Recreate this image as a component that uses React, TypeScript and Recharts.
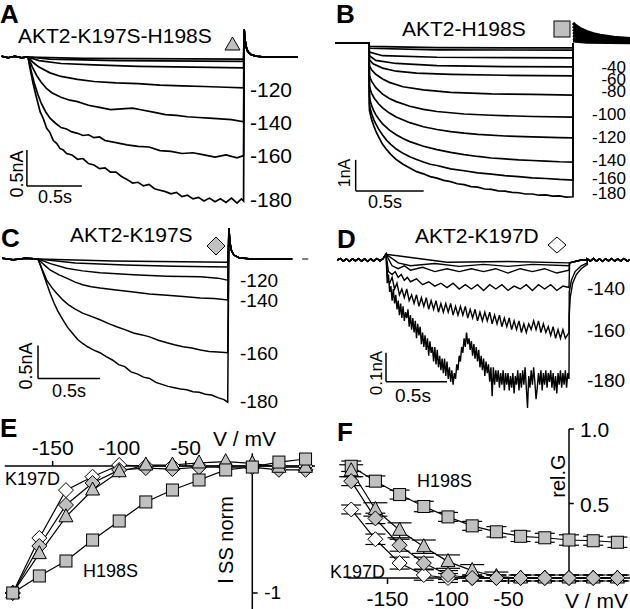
import React from "react";
import { LineChart, Line, XAxis, YAxis, ReferenceLine, ErrorBar } from "recharts";

type Pt = [number, number];

const FONT = '"Liberation Sans", Arial, sans-serif';
const GRAY = "#c0c0c0";

// ---------- A: AKT2-K197S-H198S (t in s, I in nA)
const aPre: Pt[] = [[-0.24, 0.01], [-0.18, -0.01], [-0.12, 0.01], [-0.06, -0.01], [0, 0]];
const aTail: Pt[] = [[1.965, 0.38], [1.972, 0.24], [1.985, 0.13], [2.0, 0.07], [2.03, 0.03], [2.08, 0.01], [2.15, 0], [2.45, 0]];
const a180: Pt[] = [[0.02, -0.17], [0.045, -0.36], [0.07, -0.52], [0.09, -0.64], [0.11, -0.76], [0.14, -0.86], [0.17, -0.99], [0.2, -1.05], [0.23, -1.16], [0.26, -1.2], [0.29, -1.27], [0.32, -1.29], [0.35, -1.34], [0.4, -1.36], [0.45, -1.42], [0.5, -1.41], [0.55, -1.48], [0.6, -1.5], [0.65, -1.55], [0.7, -1.54], [0.75, -1.6], [0.8, -1.6], [0.85, -1.66], [0.9, -1.7], [0.95, -1.75], [1.0, -1.74], [1.05, -1.79], [1.1, -1.77], [1.15, -1.83], [1.2, -1.85], [1.25, -1.87], [1.3, -1.9], [1.35, -1.88], [1.4, -1.94], [1.45, -1.92], [1.5, -1.97], [1.55, -1.95], [1.6, -2.0], [1.65, -1.96], [1.7, -2.01], [1.75, -1.97], [1.8, -2.02], [1.85, -1.96], [1.9, -2.03], [1.94, -1.97], [1.96, -2.0]];
const a160: Pt[] = [[0.03, -0.2], [0.06, -0.38], [0.09, -0.52], [0.12, -0.64], [0.16, -0.76], [0.2, -0.85], [0.25, -0.92], [0.3, -0.98], [0.35, -1.0], [0.4, -1.04], [0.45, -1.06], [0.5, -1.09], [0.55, -1.08], [0.6, -1.12], [0.65, -1.11], [0.7, -1.16], [0.8, -1.19], [0.9, -1.22], [1.0, -1.24], [1.1, -1.25], [1.2, -1.3], [1.3, -1.31], [1.4, -1.34], [1.5, -1.33], [1.6, -1.36], [1.7, -1.39], [1.8, -1.36], [1.9, -1.4], [1.96, -1.37]];
const a140: Pt[] = [[0.04, -0.14], [0.08, -0.26], [0.12, -0.35], [0.17, -0.44], [0.22, -0.5], [0.3, -0.56], [0.38, -0.6], [0.45, -0.62], [0.55, -0.67], [0.65, -0.7], [0.75, -0.73], [0.85, -0.72], [0.95, -0.71], [1.05, -0.74], [1.15, -0.77], [1.25, -0.8], [1.35, -0.81], [1.45, -0.83], [1.55, -0.84], [1.65, -0.85], [1.75, -0.86], [1.85, -0.87], [1.96, -0.9]];
const a120: Pt[] = [[0.05, -0.08], [0.1, -0.14], [0.2, -0.22], [0.3, -0.27], [0.45, -0.31], [0.6, -0.34], [0.8, -0.36], [1.0, -0.37], [1.2, -0.39], [1.4, -0.4], [1.6, -0.41], [1.8, -0.42], [1.96, -0.43]];
const a100: Pt[] = [[0.1, -0.05], [0.3, -0.09], [0.6, -0.11], [1.0, -0.13], [1.5, -0.14], [1.96, -0.15]];
const a80: Pt[] = [[0.2, -0.03], [0.8, -0.05], [1.96, -0.06]];
const a60: Pt[] = [[0.5, -0.02], [1.96, -0.03]];
const aTraces = [a60, a80, a100, a120, a140, a160, a180];

// ---------- B: AKT2-H198S
const bPre: Pt[] = [[-0.25, 0.29], [0, 0.29]];
const b180: Pt[] = [[0.003, -1.87], [0.01, -2.02], [0.02, -2.19], [0.035, -2.38], [0.05, -2.55], [0.07, -2.73], [0.1, -2.98], [0.13, -3.15], [0.16, -3.3], [0.2, -3.47], [0.25, -3.62], [0.3, -3.74], [0.35, -3.86], [0.4, -3.93], [0.45, -4.02], [0.5, -4.07], [0.55, -4.14], [0.6, -4.18], [0.65, -4.25], [0.7, -4.28], [0.75, -4.34], [0.8, -4.36], [0.85, -4.42], [0.9, -4.43], [0.95, -4.48], [1.0, -4.49], [1.05, -4.53], [1.1, -4.54], [1.15, -4.58], [1.2, -4.58], [1.25, -4.62], [1.3, -4.61], [1.35, -4.65], [1.4, -4.64], [1.45, -4.68], [1.5, -4.67]];
const b160: Pt[] = [[0.003, -1.7], [0.01, -1.85], [0.02, -2.0], [0.035, -2.18], [0.05, -2.32], [0.07, -2.48], [0.1, -2.68], [0.13, -2.85], [0.16, -2.98], [0.2, -3.13], [0.25, -3.27], [0.3, -3.38], [0.35, -3.47], [0.4, -3.55], [0.45, -3.62], [0.5, -3.66], [0.6, -3.77], [0.7, -3.83], [0.8, -3.9], [0.9, -3.94], [1.0, -3.99], [1.1, -4.02], [1.2, -4.06], [1.3, -4.08], [1.4, -4.11], [1.5, -4.13]];
const b140: Pt[] = [[0.003, -1.45], [0.01, -1.6], [0.02, -1.74], [0.035, -1.9], [0.05, -2.02], [0.07, -2.15], [0.1, -2.32], [0.15, -2.52], [0.2, -2.67], [0.25, -2.79], [0.3, -2.89], [0.4, -3.04], [0.5, -3.15], [0.6, -3.24], [0.7, -3.31], [0.8, -3.37], [0.9, -3.42], [1.0, -3.45], [1.1, -3.48], [1.2, -3.5], [1.3, -3.52], [1.4, -3.54], [1.5, -3.55]];
const b120: Pt[] = [[0.003, -1.1], [0.01, -1.22], [0.02, -1.34], [0.04, -1.5], [0.07, -1.67], [0.1, -1.8], [0.15, -1.97], [0.2, -2.1], [0.3, -2.28], [0.4, -2.41], [0.5, -2.5], [0.6, -2.57], [0.7, -2.62], [0.8, -2.66], [1.0, -2.71], [1.2, -2.74], [1.4, -2.76], [1.5, -2.77]];
const b100: Pt[] = [[0.003, -0.75], [0.01, -0.85], [0.02, -0.95], [0.05, -1.15], [0.1, -1.36], [0.15, -1.5], [0.2, -1.6], [0.3, -1.75], [0.4, -1.85], [0.5, -1.92], [0.7, -2.0], [0.9, -2.04], [1.2, -2.08], [1.5, -2.1]];
const b80: Pt[] = [[0.003, -0.45], [0.02, -0.58], [0.05, -0.72], [0.1, -0.87], [0.15, -0.98], [0.25, -1.12], [0.4, -1.22], [0.6, -1.3], [0.9, -1.35], [1.2, -1.37], [1.5, -1.39]];
const b60: Pt[] = [[0.003, -0.25], [0.03, -0.38], [0.1, -0.52], [0.2, -0.62], [0.35, -0.68], [0.6, -0.72], [1.0, -0.75], [1.5, -0.77]];
const b40: Pt[] = [[0.003, -0.12], [0.05, -0.27], [0.2, -0.37], [0.5, -0.44], [1.0, -0.47], [1.5, -0.48]];
const b20: Pt[] = [[0.003, 0.0], [0.1, -0.12], [0.5, -0.17], [1.5, -0.19]];
const b0: Pt[] = [[0.003, 0.12], [0.5, 0.07], [1.5, 0.06]];
const bP20: Pt[] = [[0.003, 0.18], [0.5, 0.14], [1.5, 0.13]];
// tail currents after the step
const bTail180: Pt[] = [[1.5, 0.94], [1.52, 0.85], [1.55, 0.76], [1.6, 0.66], [1.65, 0.59], [1.7, 0.54], [1.8, 0.47], [1.92, 0.43]];
const bTail160: Pt[] = [[1.5, 0.84], [1.52, 0.77], [1.55, 0.69], [1.6, 0.61], [1.65, 0.55], [1.7, 0.5], [1.8, 0.45], [1.92, 0.41]];
const bTail140: Pt[] = [[1.5, 0.74], [1.52, 0.68], [1.55, 0.62], [1.6, 0.55], [1.65, 0.5], [1.7, 0.46], [1.8, 0.42], [1.92, 0.39]];
const bTail120: Pt[] = [[1.5, 0.64], [1.52, 0.6], [1.55, 0.55], [1.6, 0.49], [1.65, 0.45], [1.7, 0.42], [1.8, 0.39], [1.92, 0.37]];
const bTail100: Pt[] = [[1.5, 0.54], [1.52, 0.51], [1.55, 0.47], [1.6, 0.43], [1.65, 0.4], [1.7, 0.38], [1.8, 0.36], [1.92, 0.34]];
const bTail80: Pt[] = [[1.5, 0.44], [1.52, 0.42], [1.55, 0.4], [1.6, 0.37], [1.65, 0.35], [1.7, 0.34], [1.8, 0.32], [1.92, 0.31]];
const bTailLow: Pt[] = [[1.5, 0.36], [1.6, 0.32], [1.92, 0.3]];
const bSteps = [bP20, b0, b20, b40, b60, b80, b100, b120, b140, b160, b180];
const bTails = [bTailLow, bTail80, bTail100, bTail120, bTail140, bTail160, bTail180];

// ---------- C: AKT2-K197S
const cPre: Pt[] = [[-0.29, 0.01], [-0.2, -0.01], [-0.1, 0.01], [0, 0]];
const cTail: Pt[] = [[1.54, 0.47], [1.547, 0.26], [1.56, 0.13], [1.58, 0.06], [1.62, 0.02], [1.7, 0.005], [2.05, 0]];
const c180: Pt[] = [[0.02, -0.1], [0.04, -0.21], [0.07, -0.37], [0.1, -0.53], [0.13, -0.67], [0.16, -0.79], [0.2, -0.92], [0.24, -1.04], [0.28, -1.13], [0.32, -1.22], [0.36, -1.28], [0.4, -1.33], [0.45, -1.38], [0.5, -1.42], [0.55, -1.48], [0.6, -1.53], [0.65, -1.6], [0.7, -1.63], [0.75, -1.71], [0.8, -1.74], [0.85, -1.79], [0.9, -1.81], [0.95, -1.87], [1.0, -1.9], [1.05, -1.93], [1.1, -1.95], [1.15, -1.97], [1.2, -1.98], [1.25, -2.01], [1.3, -2.02], [1.35, -2.05], [1.4, -2.06], [1.45, -2.1], [1.5, -2.13], [1.53, -2.17]];
const c160: Pt[] = [[0.03, -0.14], [0.07, -0.32], [0.11, -0.43], [0.15, -0.52], [0.2, -0.62], [0.25, -0.7], [0.3, -0.76], [0.36, -0.82], [0.43, -0.87], [0.5, -0.92], [0.57, -0.98], [0.64, -1.03], [0.7, -1.07], [0.77, -1.12], [0.84, -1.15], [0.9, -1.18], [0.97, -1.23], [1.04, -1.27], [1.1, -1.3], [1.17, -1.33], [1.24, -1.35], [1.31, -1.38], [1.38, -1.4], [1.45, -1.41], [1.53, -1.42]];
const c140: Pt[] = [[0.05, -0.09], [0.1, -0.17], [0.17, -0.24], [0.23, -0.29], [0.3, -0.35], [0.36, -0.39], [0.43, -0.42], [0.5, -0.44], [0.63, -0.47], [0.77, -0.5], [0.9, -0.53], [1.04, -0.55], [1.17, -0.57], [1.31, -0.59], [1.42, -0.6], [1.53, -0.62]];
const c120: Pt[] = [[0.1, -0.07], [0.23, -0.14], [0.36, -0.18], [0.5, -0.21], [0.77, -0.24], [1.04, -0.26], [1.31, -0.27], [1.45, -0.29], [1.53, -0.32]];
const c100: Pt[] = [[0.3, -0.06], [0.7, -0.09], [1.1, -0.11], [1.53, -0.12]];
const c80: Pt[] = [[0.6, -0.03], [1.53, -0.05]];
const cTraces = [c80, c100, c120, c140, c160, c180];

// ---------- D: AKT2-K197D
const dPre: Pt[] = [[-0.4, 0], [-0.375, 0.005], [-0.35, -0.004], [-0.325, 0.004], [-0.3, -0.005], [-0.275, 0.004], [-0.25, -0.003], [-0.225, 0.005], [-0.2, -0.004], [-0.175, 0.004], [-0.15, -0.005], [-0.125, 0.004], [-0.1, -0.004], [-0.075, 0.005], [-0.05, -0.003], [-0.025, 0.004], [0, 0.02]];
const dPost: Pt[] = [[1.65, 0.004], [1.675, -0.004], [1.7, 0.005], [1.725, -0.004], [1.75, 0.004], [1.775, -0.005], [1.8, 0.004], [1.825, -0.003], [1.85, 0.005], [1.875, -0.004], [1.9, 0.004], [1.925, -0.004], [1.95, 0.005], [1.975, -0.003], [2.0, 0]];
// -180 mV trace, sampled every 10 ms from step onset
const dStep = 0.01;
const d180Values = [
  0.02, -0.08, -0.05, -0.11, -0.09, -0.14, -0.1, -0.15, -0.12, -0.17, -0.14, -0.19, -0.15, -0.2, -0.16, -0.21, -0.18, -0.2, -0.17, -0.23,
  -0.19, -0.24, -0.2, -0.25, -0.21, -0.27, -0.22, -0.26, -0.23, -0.29, -0.25, -0.3, -0.26, -0.31, -0.27, -0.33, -0.28, -0.32, -0.3, -0.35,
  -0.3, -0.36, -0.31, -0.37, -0.33, -0.38, -0.34, -0.39, -0.34, -0.4, -0.35, -0.41, -0.37, -0.42, -0.38, -0.43, -0.39, -0.41, -0.36, -0.38,
  -0.33, -0.35, -0.3, -0.32, -0.27, -0.3, -0.25, -0.29, -0.27, -0.31, -0.28, -0.33, -0.29, -0.34, -0.3, -0.35, -0.31, -0.37, -0.33, -0.38,
  -0.34, -0.4, -0.35, -0.39, -0.36, -0.42, -0.37, -0.47, -0.37, -0.43, -0.38, -0.42, -0.38, -0.44, -0.39, -0.43, -0.38, -0.45, -0.39, -0.43,
  -0.39, -0.45, -0.4, -0.44, -0.39, -0.46, -0.4, -0.43, -0.38, -0.45, -0.39, -0.44, -0.38, -0.43, -0.37, -0.44, -0.51, -0.4, -0.44, -0.38,
  -0.43, -0.37, -0.42, -0.48, -0.44, -0.39, -0.43, -0.38, -0.45, -0.39, -0.43, -0.38, -0.44, -0.39, -0.42, -0.38, -0.44, -0.39, -0.45, -0.4,
  -0.46, -0.39, -0.43, -0.38, -0.44, -0.39, -0.43, -0.38, -0.44, -0.39, -0.41,
];
const d160: Pt[] = [[0.01, -0.04], [0.015, -0.07], [0.03, -0.08], [0.05, -0.06], [0.07, -0.1], [0.09, -0.08], [0.11, -0.12], [0.13, -0.1], [0.15, -0.13], [0.17, -0.1], [0.19, -0.14], [0.21, -0.12], [0.23, -0.15], [0.25, -0.12], [0.27, -0.16], [0.29, -0.13], [0.31, -0.16], [0.33, -0.13], [0.35, -0.17], [0.37, -0.14], [0.39, -0.17], [0.41, -0.14], [0.43, -0.18], [0.45, -0.15], [0.47, -0.18], [0.49, -0.15], [0.51, -0.18], [0.53, -0.15], [0.55, -0.19], [0.57, -0.16], [0.59, -0.19], [0.61, -0.16], [0.63, -0.19], [0.65, -0.16], [0.67, -0.2], [0.69, -0.17], [0.71, -0.2], [0.73, -0.17], [0.75, -0.21], [0.77, -0.18], [0.79, -0.21], [0.81, -0.18], [0.83, -0.21], [0.85, -0.18], [0.87, -0.22], [0.89, -0.19], [0.91, -0.22], [0.93, -0.19], [0.95, -0.23], [0.97, -0.2], [0.99, -0.23], [1.01, -0.2], [1.03, -0.24], [1.05, -0.21], [1.07, -0.24], [1.09, -0.21], [1.11, -0.25], [1.13, -0.22], [1.15, -0.25], [1.17, -0.22], [1.19, -0.24], [1.21, -0.21], [1.23, -0.24], [1.25, -0.21], [1.27, -0.25], [1.29, -0.22], [1.31, -0.25], [1.33, -0.23], [1.35, -0.26], [1.37, -0.23], [1.39, -0.27], [1.41, -0.24], [1.43, -0.27], [1.45, -0.24], [1.47, -0.27], [1.5, -0.25]];
const d140: Pt[] = [[0.02, -0.04], [0.05, -0.05], [0.075, -0.04], [0.1, -0.06], [0.125, -0.05], [0.15, -0.07], [0.175, -0.06], [0.2, -0.075], [0.25, -0.065], [0.3, -0.085], [0.35, -0.075], [0.4, -0.09], [0.45, -0.08], [0.5, -0.095], [0.55, -0.08], [0.6, -0.1], [0.65, -0.085], [0.7, -0.1], [0.75, -0.085], [0.8, -0.105], [0.85, -0.085], [0.9, -0.1], [0.95, -0.085], [1.0, -0.105], [1.05, -0.09], [1.1, -0.1], [1.15, -0.085], [1.2, -0.105], [1.25, -0.085], [1.3, -0.1], [1.35, -0.085], [1.4, -0.105], [1.45, -0.09], [1.5, -0.095]];
const d120: Pt[] = [[0.05, -0.02], [0.1, -0.03], [0.15, -0.02], [0.2, -0.035], [0.3, -0.025], [0.4, -0.04], [0.5, -0.03], [0.6, -0.04], [0.7, -0.03], [0.8, -0.04], [0.9, -0.03], [1.0, -0.045], [1.1, -0.03], [1.2, -0.04], [1.3, -0.03], [1.4, -0.045], [1.5, -0.035]];
const d100: Pt[] = [[0.1, -0.01], [0.2, -0.02], [0.4, -0.012], [0.6, -0.022], [0.8, -0.015], [1.0, -0.022], [1.2, -0.015], [1.5, -0.02]];
const d80: Pt[] = [[0.5, -0.008], [1.0, -0.005], [1.5, -0.01]];
const dTail180: Pt[] = [[1.502, -0.19], [1.51, -0.13], [1.53, -0.08], [1.56, -0.05], [1.6, -0.03], [1.65, -0.015]];
const dTail160: Pt[] = [[1.502, -0.11], [1.52, -0.07], [1.55, -0.04], [1.6, -0.02], [1.65, -0.01]];
const dTailLow: Pt[] = [[1.505, -0.01], [1.6, 0], [1.65, 0]];

// ---------- E: steady-state current vs voltage (normalized)
const voltages = [-180, -160, -140, -120, -100, -80, -60, -40, -20, 0, 20, 40];
const eH198S = [-1.0, -0.866, -0.748, -0.583, -0.433, -0.283, -0.189, -0.11, -0.031, -0.008, 0.031, 0.055];
const eK197SH198S = [-1.0, -0.69, -0.4, -0.189, -0.045, 0.008, 0.008, 0.024, 0.034, 0.02, -0.01, -0.01];
const eK197S = [-1.0, -0.63, -0.307, -0.134, -0.031, -0.016, -0.024, -0.01, -0.01, -0.01, -0.03, -0.03];
const eK197D = [-1.0, -0.567, -0.19, -0.084, 0.008, 0, 0, 0, 0, 0, 0, 0];

// ---------- F: relative conductance
const fH198S = [0.75, 0.65, 0.56, 0.48, 0.41, 0.35, 0.31, 0.28, 0.27, 0.255, 0.25, 0.24];
const fK197SH198S = [0.72, 0.46, 0.32, 0.21, 0.11, 0.05, 0.01, 0, 0, 0, 0, 0];
const fK197S = [0.65, 0.4, 0.22, 0.1, 0.02, 0, 0, 0, 0, 0, 0, 0];
const fK197D = [0.46, 0.26, 0.1, 0.02, 0, 0, 0, 0, 0, 0, 0, 0];
const fH198SErr = [0.035, 0.035, 0.03, 0.035, 0.03, 0.03, 0.035, 0.035, 0.03, 0.035, 0.03, 0.035];
const fK197SH198SErr = [0.04, 0.045, 0.05, 0.045, 0.045, 0.04, 0.03, 0.02, 0.02, 0.02, 0.02, 0.02];
const fK197SErr = [0.03, 0.035, 0.04, 0.04, 0.03, 0.02, 0.02, 0.02, 0.02, 0.02, 0.02, 0.02];
const fK197DErr = [0.03, 0.035, 0.04, 0.035, 0.03, 0.02, 0.02, 0.02, 0.02, 0.02, 0.02, 0.02];

const eXTicks = [-150, -100, -50];
const eYTicks = [-1];
const fXTicks = [-150, -100, -50];
const fYTicks = [0.5, 1.0];

// scale bars: corner (t, i) and lengths
const scaleA = { t: -0.01, i: -1.79, dt: 0.5, di: 0.5 };
const scaleB = { t: -0.098, i: -4.48, dt: 0.5, di: 1 };
const scaleC = { t: 0, i: -1.81, dt: 0.5, di: 0.5 };
const scaleD = { t: 0, i: -0.42, dt: 0.5, di: 0.1 };

type Trace = { pts: Pt[]; w: number };
type Scale = { t: number; i: number; dt: number; di: number };

const toRows = (pts: Pt[]) => pts.map(([t, i]) => ({ t, i }));

const eRows = voltages.map((v, k) => ({ v, sq: eH198S[k], tri: eK197SH198S[k], dia: eK197S[k], odia: eK197D[k] }));
const fRows = voltages.map((v, k) => ({
  v,
  sq: fH198S[k], sqE: fH198SErr[k],
  tri: fK197SH198S[k], triE: fK197SH198SErr[k],
  dia: fK197S[k], diaE: fK197SErr[k],
  odia: fK197D[k], odiaE: fK197DErr[k],
}));

function Marker({ cx, cy, kind }: { cx?: number; cy?: number; kind: string }) {
  if (cx == null || cy == null) return null;
  if (kind === "sq") return <rect x={cx - 6} y={cy - 6} width={12} height={12} fill={GRAY} stroke="#000" strokeWidth={1} />;
  if (kind === "tri")
    return <polygon points={`${cx},${cy - 8} ${cx + 7},${cy + 5} ${cx - 7},${cy + 5}`} fill={GRAY} stroke="#000" strokeWidth={1} />;
  const fill = kind === "odia" ? "#fff" : GRAY;
  return <polygon points={`${cx},${cy - 7.5} ${cx + 7.5},${cy} ${cx},${cy + 7.5} ${cx - 7.5},${cy}`} fill={fill} stroke="#000" strokeWidth={1} />;
}

const dotOf = (kind: string) => (p: any) => <Marker key={`${kind}-${p.index}`} cx={p.cx} cy={p.cy} kind={kind} />;

function TickText(props: any) {
  const { viewBox, text, dx = 0, dy = 0, anchor = "middle", size = 21 } = props;
  if (!viewBox) return null;
  return (
    <text x={viewBox.x + dx} y={viewBox.y + dy} textAnchor={anchor} fontSize={size} fontFamily={FONT} fill="#000">
      {text}
    </text>
  );
}

const noMargin = { top: 0, right: 0, bottom: 0, left: 0 };

function tracePanel(
  key: string,
  left: number,
  top: number,
  width: number,
  height: number,
  xDomain: [number, number],
  yDomain: [number, number],
  traces: Trace[],
  s: Scale,
  extra: React.ReactNode[] = []
) {
  return (
    <div key={key} style={{ position: "absolute", left, top }}>
      <LineChart width={width} height={height} margin={noMargin}>
        <XAxis type="number" dataKey="t" domain={xDomain} hide allowDataOverflow />
        <YAxis type="number" domain={yDomain} hide allowDataOverflow />
        {extra}
        {traces.map((tr, k) => (
          <Line key={k} data={toRows(tr.pts)} dataKey="i" type="linear" stroke="#000" strokeWidth={tr.w} dot={false} activeDot={false} isAnimationActive={false} />
        ))}
        <ReferenceLine segment={[{ x: s.t, y: s.i }, { x: s.t, y: s.i + s.di }]} stroke="#000" strokeWidth={1.5} />
        <ReferenceLine segment={[{ x: s.t, y: s.i }, { x: s.t + s.dt, y: s.i }]} stroke="#000" strokeWidth={1.5} />
      </LineChart>
    </div>
  );
}

function Txt({ x, y, s = 21, b, a = "start", r, children }: any) {
  const common = { fontSize: s, fontFamily: FONT, fontWeight: b ? 700 : 400, textAnchor: a, fill: "#000" };
  if (r) return <text transform={`translate(${x},${y}) rotate(-90)`} {...common}>{children}</text>;
  return <text x={x} y={y} {...common}>{children}</text>;
}

export default function App() {
  const aAll: Trace[] = aTraces.map((tr) => ({ pts: [...aPre, ...tr, ...aTail], w: 1.7 }));
  const bAll: Trace[] = [
    ...bSteps.map((tr) => ({ pts: [...bPre, ...tr, [1.5, 0.29] as Pt], w: 1.7 })),
    ...bTails.map((tl) => ({ pts: tl, w: 3.2 })),
  ];
  const cAll: Trace[] = cTraces.map((tr) => ({ pts: [...cPre, ...tr, ...cTail], w: 1.5 }));
  const d180: Pt[] = d180Values.map((v, k) => [k * dStep, v] as Pt);
  const dAll: Trace[] = [
    [d80, dTailLow], [d100, dTailLow], [d120, dTailLow], [d140, dTailLow], [d160, dTail160], [d180, dTail180],
  ].map(([tr, tl]) => ({ pts: [...dPre, ...tr, ...tl, ...dPost], w: 1.4 }));

  return (
    <div style={{ position: "absolute", left: 0, top: 0, width: 630, height: 609, background: "#fff", overflow: "hidden" }}>
      {tracePanel("A", 0, 0, 315, 220, [-0.2545, 2.6091], [-2.2639, 0.7917], aAll, scaleA)}
      {tracePanel("B", 315, 0, 315, 220, [-0.3971, 1.9191], [-5.4194, 1.6774], bAll, scaleB, [
        <ReferenceLine key="zero" segment={[{ x: -0.25, y: 0 }, { x: 1.92, y: 0 }]} stroke="#000" strokeWidth={2} strokeDasharray="9 5" />,
      ])}
      {tracePanel("C", 0, 220, 315, 190, [-0.3065, 2.2339], [-2.2879, 0.5909], cAll, scaleC, [
        <ReferenceLine key="dash" segment={[{ x: 2.13, y: 0 }, { x: 2.18, y: 0 }]} stroke="#000" strokeWidth={1} />,
      ])}
      {tracePanel("D", 315, 220, 315, 190, [-0.582, 2.0], [-0.5172, 0.1379], dAll, scaleD)}

      {/* E */}
      <div style={{ position: "absolute", left: 0, top: 410 }}>
        <LineChart width={315} height={199} data={eRows} margin={noMargin}>
          <XAxis type="number" dataKey="v" domain={[-189.56, 47.11]} hide allowDataOverflow />
          <YAxis type="number" domain={[-1.126, 0.441]} hide allowDataOverflow />
          <ReferenceLine segment={[{ x: -186, y: 0 }, { x: 47.1, y: 0 }]} stroke="#000" strokeWidth={1.5} />
          <ReferenceLine segment={[{ x: 0, y: 0.1 }, { x: 0, y: -1.126 }]} stroke="#000" strokeWidth={1.5} />
          {eXTicks.map((v) => (
            <ReferenceLine key={`ex${v}`} segment={[{ x: v, y: 0 }, { x: v, y: 0.04 }]} stroke="#000" strokeWidth={1.5} label={<TickText text={String(v)} dy={-6} />} />
          ))}
          {eYTicks.map((v) => (
            <ReferenceLine key={`ey${v}`} segment={[{ x: 0, y: v }, { x: 4, y: v }]} stroke="#000" strokeWidth={1.5} label={<TickText text={String(v)} dx={12} dy={6} anchor="start" size={19} />} />
          ))}
          <Line dataKey="odia" stroke="#000" strokeWidth={1.2} dot={dotOf("odia")} activeDot={false} isAnimationActive={false} />
          <Line dataKey="dia" stroke="#000" strokeWidth={1.2} dot={dotOf("dia")} activeDot={false} isAnimationActive={false} />
          <Line dataKey="tri" stroke="#000" strokeWidth={1.2} dot={dotOf("tri")} activeDot={false} isAnimationActive={false} />
          <Line dataKey="sq" stroke="#000" strokeWidth={1.2} dot={dotOf("sq")} activeDot={false} isAnimationActive={false} />
        </LineChart>
      </div>

      {/* F */}
      <div style={{ position: "absolute", left: 315, top: 410 }}>
        <LineChart width={315} height={199} data={fRows} margin={noMargin}>
          <XAxis type="number" dataKey="v" domain={[-209.92, 50.41]} hide allowDataOverflow />
          <YAxis type="number" domain={[-0.208, 1.1275]} hide allowDataOverflow />
          <ReferenceLine segment={[{ x: -183, y: 0 }, { x: 50.4, y: 0 }]} stroke="#000" strokeWidth={1.5} />
          <ReferenceLine segment={[{ x: 0, y: 0 }, { x: 0, y: 1.0 }]} stroke="#000" strokeWidth={1.5} />
          {fXTicks.map((v) => (
            <ReferenceLine key={`fx${v}`} segment={[{ x: v, y: 0 }, { x: v, y: -0.04 }]} stroke="#000" strokeWidth={1.5} label={<TickText text={String(v)} dy={28} />} />
          ))}
          {fYTicks.map((v) => (
            <ReferenceLine key={`fy${v}`} segment={[{ x: 0, y: v }, { x: 4, y: v }]} stroke="#000" strokeWidth={1.5} label={<TickText text={v.toFixed(1)} dx={11} dy={8} anchor="start" />} />
          ))}
          <Line dataKey="sq" stroke="#000" strokeWidth={1.2} dot={dotOf("sq")} activeDot={false} isAnimationActive={false}>
            <ErrorBar dataKey="sqE" width={10} stroke="#000" strokeWidth={1.2} direction="y" />
          </Line>
          <Line dataKey="odia" stroke="#000" strokeWidth={1.2} dot={dotOf("odia")} activeDot={false} isAnimationActive={false}>
            <ErrorBar dataKey="odiaE" width={10} stroke="#000" strokeWidth={1.2} direction="y" />
          </Line>
          <Line dataKey="tri" stroke="#000" strokeWidth={1.2} dot={dotOf("tri")} activeDot={false} isAnimationActive={false}>
            <ErrorBar dataKey="triE" width={12} stroke="#000" strokeWidth={1.2} direction="y" />
          </Line>
          <Line dataKey="dia" stroke="#000" strokeWidth={1.2} dot={dotOf("dia")} activeDot={false} isAnimationActive={false}>
            <ErrorBar dataKey="diaE" width={10} stroke="#000" strokeWidth={1.2} direction="y" />
          </Line>
        </LineChart>
      </div>

      {/* annotations */}
      <svg width={630} height={609} style={{ position: "absolute", left: 0, top: 0, pointerEvents: "none" }}>
        <Txt x={0} y={23} s={26} b>A</Txt>
        <Txt x={336} y={23} s={26} b>B</Txt>
        <Txt x={1} y={247} s={26} b>C</Txt>
        <Txt x={337} y={248} s={26} b>D</Txt>
        <Txt x={0} y={437} s={26} b>E</Txt>
        <Txt x={337} y={441} s={26} b>F</Txt>

        <Txt x={18} y={43}>AKT2-K197S-H198S</Txt>
        <Txt x={402} y={36}>AKT2-H198S</Txt>
        <Txt x={70} y={242}>AKT2-K197S</Txt>
        <Txt x={415} y={243}>AKT2-K197D</Txt>

        <polygon points="225,50 240,50 232.5,37" fill={GRAY} stroke="#000" strokeWidth={1} />
        <rect x={554} y={21} width={16} height={16} fill={GRAY} stroke="#000" strokeWidth={1} />
        <polygon points="216,237 225,246 216,255 207,246" fill={GRAY} stroke="#000" strokeWidth={1} />
        <polygon points="557,237 566,245 557,253 548,245" fill="#fff" stroke="#000" strokeWidth={1} />

        <Txt x={250} y={97}>-120</Txt>
        <Txt x={250} y={130}>-140</Txt>
        <Txt x={250} y={163}>-160</Txt>
        <Txt x={250} y={207}>-180</Txt>

        <Txt x={626} y={73} s={17} a="end">-40</Txt>
        <Txt x={626} y={85} s={17} a="end">-60</Txt>
        <Txt x={626} y={97} s={17} a="end">-80</Txt>
        <Txt x={626} y={120} s={17} a="end">-100</Txt>
        <Txt x={626} y={143} s={17} a="end">-120</Txt>
        <Txt x={626} y={166} s={17} a="end">-140</Txt>
        <Txt x={626} y={184} s={17} a="end">-160</Txt>
        <Txt x={626} y={199} s={17} a="end">-180</Txt>

        <Txt x={240} y={287} s={19}>-120</Txt>
        <Txt x={240} y={307} s={19}>-140</Txt>
        <Txt x={240} y={360} s={19}>-160</Txt>
        <Txt x={240} y={408} s={19}>-180</Txt>

        <Txt x={587} y={295} s={19}>-140</Txt>
        <Txt x={587} y={337} s={19}>-160</Txt>
        <Txt x={587} y={387} s={19}>-180</Txt>

        <Txt x={23} y={174} s={18} a="middle" r>0.5nA</Txt>
        <Txt x={38} y={203} s={18}>0.5s</Txt>
        <Txt x={350} y={173} s={16} a="middle" r>1nA</Txt>
        <Txt x={368} y={208} s={18}>0.5s</Txt>
        <Txt x={32} y={366} s={18} a="middle" r>0.5nA</Txt>
        <Txt x={52} y={397} s={18}>0.5s</Txt>
        <Txt x={382} y={373} s={17} a="middle" r>0.1nA</Txt>
        <Txt x={395} y={402} s={19}>0.5s</Txt>

        <Txt x={213} y={446}>V / mV</Txt>
        <Txt x={5} y={485} s={18}>K197D</Txt>
        <Txt x={83} y={577} s={18}>H198S</Txt>
        <text transform="translate(233,584) rotate(-90)" fontFamily={FONT} fill="#000">
          <tspan fontSize={22}>I</tspan>
          <tspan fontSize={20} dx={4}>SS norm</tspan>
        </text>

        <Txt x={565} y={476} s={20} a="middle" r>rel.G</Txt>
        <Txt x={565} y={608}>V / mV</Txt>
        <Txt x={417} y={487} s={18}>H198S</Txt>
        <Txt x={330} y={578} s={18}>K197D</Txt>
      </svg>
    </div>
  );
}
